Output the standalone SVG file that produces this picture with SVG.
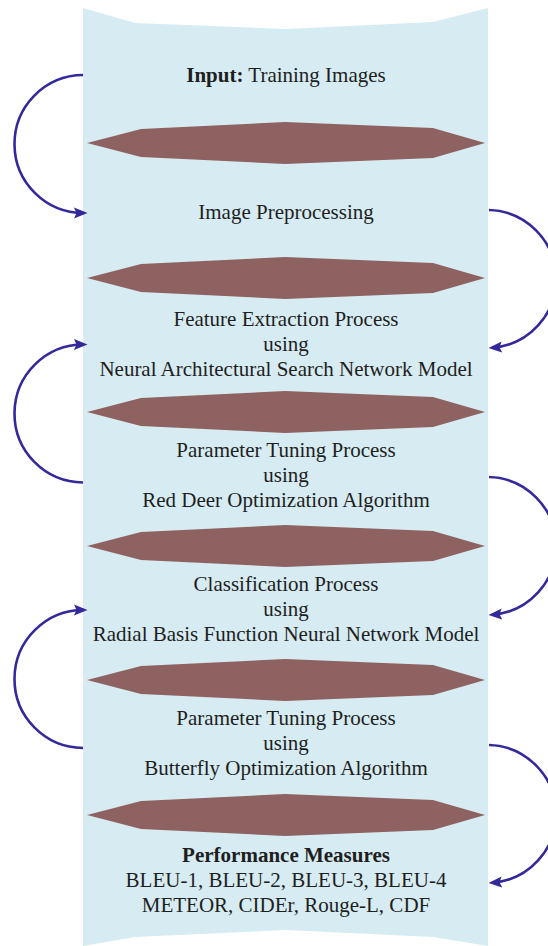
<svg xmlns="http://www.w3.org/2000/svg" width="548" height="946" viewBox="0 0 548 946">
  <style>
    .panel { fill: #D6ECF2; }
    .band { fill: #8F6262; }
    .lbl { font-family: "Liberation Serif", "Times New Roman", serif; font-size: 21px; fill: #1E1E1E; text-anchor: middle; }
    .b { font-weight: bold; }
    .link { fill: none; stroke: #33299A; stroke-width: 2.6; marker-end: url(#head); }
  </style>
  <defs>
    <marker id="head" markerUnits="userSpaceOnUse" markerWidth="14" markerHeight="12" viewBox="0 0 14 12" refX="10" refY="6" orient="auto">
      <path d="M0,0.5 L13.5,6 L0,11.5 L2.5,6 Z" fill="#33299A"/>
    </marker>
    <!-- tapered separator band, centred on y = 0 -->
    <polygon id="sep" points="87,0 141,-14 285,-21 433,-15 485,0 433,15 285,21 141,14"/>
  </defs>

  <!-- background column with concave top and bottom -->
  <path class="panel" d="M83,8 L135,23 L286,29 L433,22 L488,8 L488,946 L433,937 L286,930 L135,937 L83,946 Z"/>

  <!-- separators -->
  <g id="separators" class="band">
    <use href="#sep" transform="translate(0,143)"/>
    <use href="#sep" transform="translate(0,278)"/>
    <use href="#sep" transform="translate(0,412)"/>
    <use href="#sep" transform="translate(0,546)"/>
    <use href="#sep" transform="translate(0,680)"/>
    <use href="#sep" transform="translate(0,815)"/>
  </g>

  <g id="input" class="lbl">
    <text x="286" y="82"><tspan class="b">Input:</tspan> Training Images</text>
  </g>
  <g id="preprocessing" class="lbl">
    <text x="286" y="219">Image Preprocessing</text>
  </g>
  <g id="feature-extraction" class="lbl">
    <text x="286" y="326">Feature Extraction Process</text>
    <text x="286" y="351">using</text>
    <text x="286" y="376">Neural Architectural Search Network Model</text>
  </g>
  <g id="tuning-rdo" class="lbl">
    <text x="286" y="457">Parameter Tuning Process</text>
    <text x="286" y="482">using</text>
    <text x="286" y="507">Red Deer Optimization Algorithm</text>
  </g>
  <g id="classification" class="lbl">
    <text x="286" y="591">Classification Process</text>
    <text x="286" y="616">using</text>
    <text x="286" y="641">Radial Basis Function Neural Network Model</text>
  </g>
  <g id="tuning-boa" class="lbl">
    <text x="286" y="725">Parameter Tuning Process</text>
    <text x="286" y="750">using</text>
    <text x="286" y="775">Butterfly Optimization Algorithm</text>
  </g>
  <g id="performance" class="lbl">
    <text x="286" y="862" class="b">Performance Measures</text>
    <text x="286" y="887">BLEU-1, BLEU-2, BLEU-3, BLEU-4</text>
    <text x="286" y="912">METEOR, CIDEr, Rouge-L, CDF</text>
  </g>

  <!-- connectors: semicircular loops alternating left and right -->
  <g id="connectors">
    <path class="link" d="M83,75 A69,69 0 0 0 84,213"/>
    <path class="link" d="M489,210 A69,69 0 0 1 492,347.8"/>
    <path class="link" d="M83,482.5 A69,69 0 0 1 84,344.5"/>
    <path class="link" d="M489,477 A69,69 0 0 1 492,614.8"/>
    <path class="link" d="M83,748 A69,69 0 0 1 84,610"/>
    <path class="link" d="M489,745 A69,69 0 0 1 492,882.8"/>
  </g>
</svg>
